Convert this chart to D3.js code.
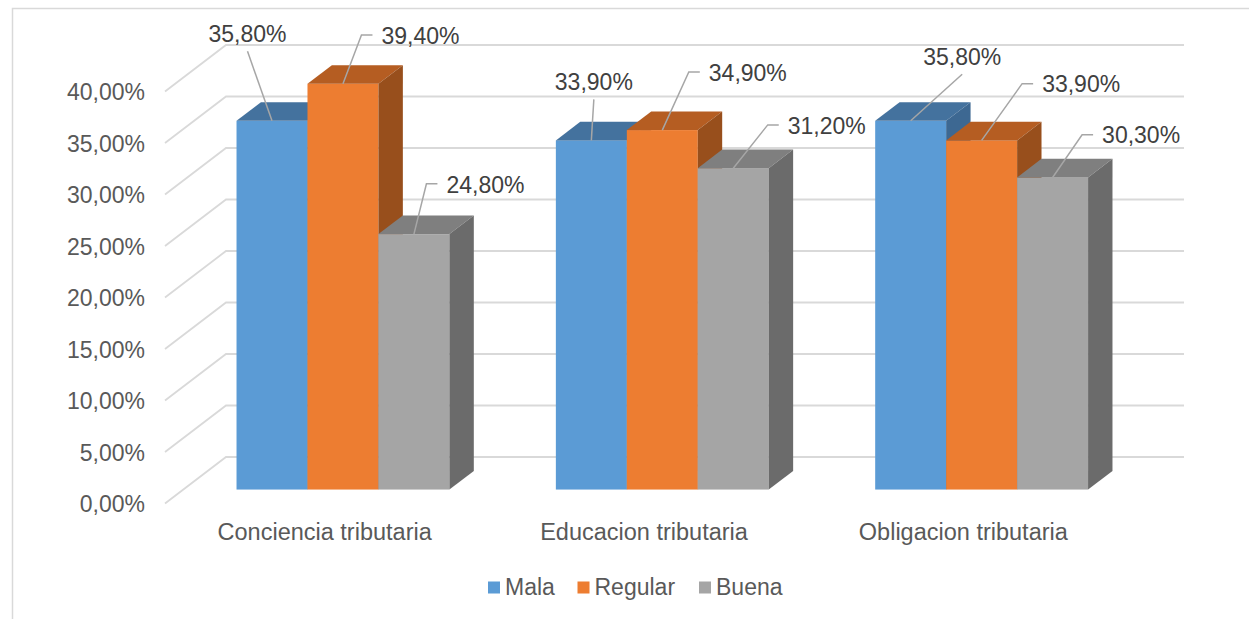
<!DOCTYPE html>
<html>
<head>
<meta charset="utf-8">
<script src="https://cdn.jsdelivr.net/npm/d3@7"></script>
<style>
  html, body { margin: 0; padding: 0; background: #fff; }
  svg { display: block; font-family: "Liberation Sans", Arial, sans-serif; }
</style>
</head>
<body>
<svg id="chart" width="1249" height="619"></svg>
<script>
// ---- data ----
const categories = ["Conciencia tributaria", "Educacion tributaria", "Obligacion tributaria"];
const seriesNames = ["Mala", "Regular", "Buena"];
const mala    = [35.8, 33.9, 35.8];
const regular = [39.4, 34.9, 33.9];
const buena   = [24.8, 31.2, 30.3];
const yTicks  = [0, 5, 10, 15, 20, 25, 30, 35, 40];

// ---- styles / layout (kept apart from data) ----
const seriesColors = {
  Mala:    { front: "#5B9BD5", top: "#44729E", side: "#3D6892" },
  Regular: { front: "#ED7D31", top: "#B55D22", side: "#984F1C" },
  Buena:   { front: "#A5A5A5", top: "#7F7F7F", side: "#6B6B6B" }
};
// manual data-label placement: mode + text offset from bar's top-front centre
const labelLayout = {
  Mala:    [{m:"above", dx:-24.5, dy:-78.5}, {m:"above", dx:2.5, dy:-50}, {m:"above", dx:51.5, dy:-55.5}],
  Regular: [{m:"right", dx:38.5, dy:-40},   {m:"right", dx:46.5, dy:-49.5}, {m:"right", dx:60.5, dy:-48}],
  Buena:   [{m:"right", dx:32.5, dy:-41.6}, {m:"right", dx:54.5, dy:-34.6}, {m:"right", dx:49.5, dy:-34}]
};

const seriesValues = { Mala: mala, Regular: regular, Buena: buena };
const fmt = v => v.toFixed(2).replace(".", ",") + "%";

const svg = d3.select("#chart");

// frame
svg.append("rect").attr("x", 12.5).attr("y", 8.5).attr("width", 1400).attr("height", 800)
  .attr("fill", "#fff").attr("stroke", "#D9D9D9").attr("stroke-width", 1.5);

// scales on the back wall plane
const x = d3.scaleBand().domain(categories).range([226, 1184]).paddingInner(1/3).paddingOuter(1/6);
const xs = d3.scaleBand().domain(seriesNames).range([0, x.bandwidth()]);
const y = d3.scaleLinear().domain([0, 40]).range([457, 45]);

// depth vector (back -> front of floor)
const D = { x: -61, y: 46.5 };
const tFront = 0.7, tBack = 0.3;
const F = { x: D.x * tFront, y: D.y * tFront };
const B = { x: D.x * tBack, y: D.y * tBack };

// gridlines (back wall + side wall)
const grid = svg.append("g").attr("stroke", "#D9D9D9").attr("stroke-width", 1.8).attr("fill", "none");
yTicks.forEach(t => {
  const yy = y(t);
  grid.append("path").attr("d", `M${x.range()[1]},${yy}H${x.range()[0]}L${x.range()[0] + D.x},${yy + D.y}`);
});

// y tick labels
svg.append("g").selectAll("text").data(yTicks).join("text")
  .attr("x", 145).attr("y", d => y(d) + D.y + 8.5)
  .attr("text-anchor", "end").attr("font-size", 23).attr("fill", "#595959")
  .text(fmt);

// bars
const barsG = svg.append("g");
const y0 = y(0);
categories.forEach((cat, ci) => {
  seriesNames.forEach(s => {
    const v = seriesValues[s][ci];
    const xl = x(cat) + xs(s), w = xs.bandwidth(), yv = y(v);
    const c = seriesColors[s];
    const g = barsG.append("g");
    g.append("rect").attr("x", xl + F.x).attr("y", yv + F.y).attr("width", w).attr("height", y0 - yv)
      .attr("fill", c.front);
    g.append("path").attr("fill", c.top)
      .attr("d", `M${xl + F.x},${yv + F.y}L${xl + w + F.x},${yv + F.y}L${xl + w + B.x},${yv + B.y}L${xl + B.x},${yv + B.y}Z`);
    g.append("path").attr("fill", c.side)
      .attr("d", `M${xl + w + F.x},${yv + F.y}L${xl + w + B.x},${yv + B.y}L${xl + w + B.x},${y0 + B.y}L${xl + w + F.x},${y0 + F.y}Z`);
  });
});

// data labels with leader lines
const lab = svg.append("g");
categories.forEach((cat, ci) => {
  seriesNames.forEach(s => {
    const v = seriesValues[s][ci];
    const ax = x(cat) + xs(s) + xs.bandwidth() / 2 + F.x;
    const ay = y(v) + F.y;
    const L = labelLayout[s][ci];
    const tx = ax + L.dx, ty = ay + L.dy;
    let d;
    if (L.m === "above") {
      d = `M${tx},${ty + 9}L${ax},${ay}`;
    } else {
      const hy = ty - 8.7;
      d = `M${ax},${ay}L${tx - 20},${hy}L${tx - 9},${hy}`;
    }
    lab.append("path").attr("d", d).attr("fill", "none").attr("stroke", "#A6A6A6").attr("stroke-width", 1.5);
    lab.append("text").attr("x", tx).attr("y", ty)
      .attr("text-anchor", L.m === "above" ? "middle" : "start")
      .attr("font-size", 23).attr("fill", "#404040").text(fmt(v));
  });
});

// category labels (front edge of floor)
svg.append("g").selectAll("text").data(categories).join("text")
  .attr("x", d => x(d) + x.bandwidth() / 2 + D.x).attr("y", 540)
  .attr("text-anchor", "middle").attr("font-size", 23.5).attr("fill", "#595959")
  .text(d => d);

// legend
const legendX = [488, 577.5, 699];
const lg = svg.append("g");
seriesNames.forEach((s, i) => {
  lg.append("rect").attr("x", legendX[i]).attr("y", 581.5).attr("width", 12).attr("height", 12)
    .attr("fill", seriesColors[s].front);
  lg.append("text").attr("x", legendX[i] + 17).attr("y", 595).attr("font-size", 23)
    .attr("fill", "#595959").text(s);
});
</script>
</body>
</html>
